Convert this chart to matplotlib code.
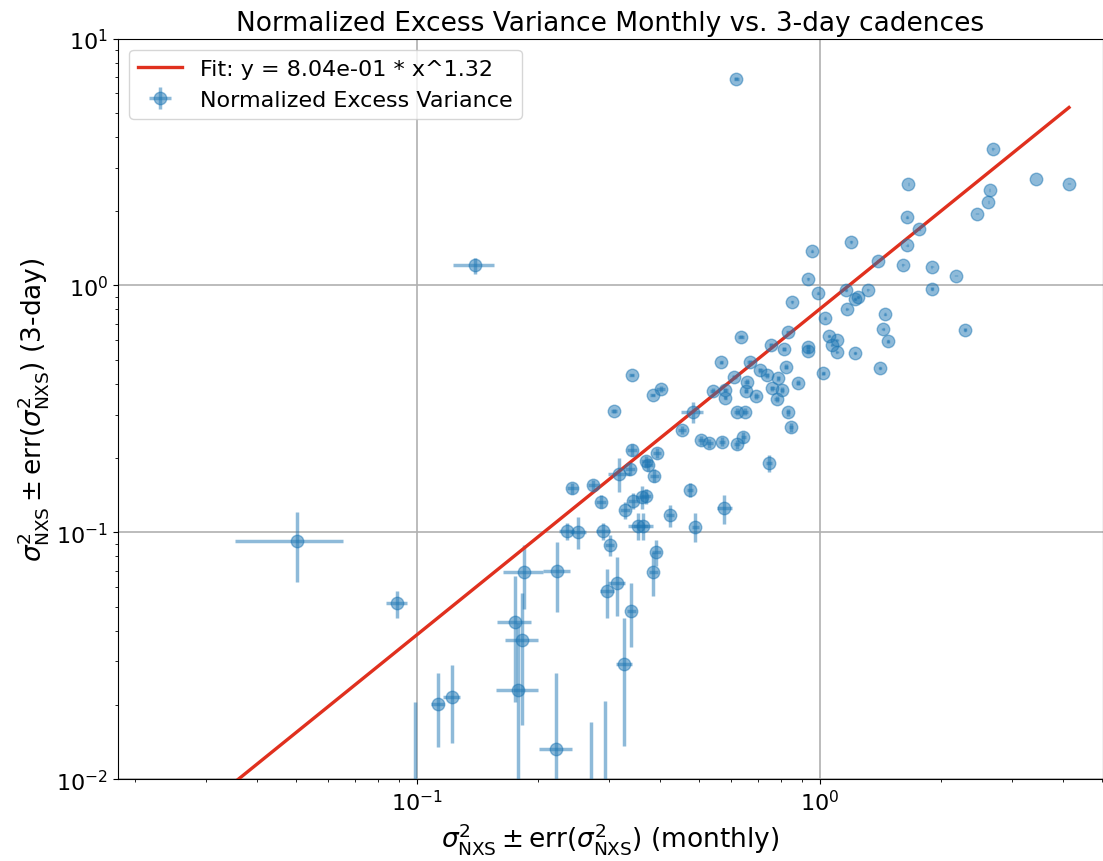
import numpy as np
import matplotlib
matplotlib.use('Agg')
import matplotlib.pyplot as plt

# fit parameters shown in the legend
fit_amp = 0.804
fit_index = 1.32

# normalized excess variance, monthly (x) vs 3-day (y) cadences
nxs_monthly = [
    0.0504, 0.0892, 0.1125, 0.122, 0.099, 0.139, 0.1846, 0.222, 0.175, 0.182,
    0.178, 0.2213, 0.27, 0.292, 0.296, 0.313, 0.340, 0.3265, 0.386, 0.392,
    0.3005, 0.290, 0.251, 0.235, 0.354, 0.364, 0.328, 0.343, 0.361, 0.370,
    0.286, 0.243, 0.274, 0.317, 0.338, 0.341, 0.394, 0.370, 0.375, 0.388,
    0.4245, 0.490, 0.476, 0.579, 0.454, 0.507, 0.531, 0.5725, 0.623, 0.645,
    0.636, 0.834, 0.756, 0.814, 0.935, 0.935, 0.5695, 0.67, 0.71, 0.738,
    0.788, 0.822, 0.884, 0.762, 0.806, 0.781, 0.834, 0.848, 0.694, 0.658,
    0.654, 0.613, 0.582, 0.582, 0.541, 0.621, 0.652, 0.483, 0.747, 0.341,
    0.384, 0.4025, 0.308,
    0.957, 1.194, 0.935, 0.99, 0.851, 1.16, 1.313, 1.245, 1.221, 1.165,
    1.029, 1.39, 1.604, 1.647, 1.764, 1.644, 1.893, 1.893, 1.45, 1.436,
    1.472, 1.409, 1.221, 1.053, 1.10, 1.069, 1.10, 1.019, 2.683, 3.43,
    4.15, 2.637, 2.617, 2.457, 1.658, 2.176, 2.29, 0.62,
]
nxs_3day = [
    0.092, 0.0515, 0.0202, 0.0215, 0.004, 1.205, 0.0689, 0.0697, 0.0435, 0.0366,
    0.023, 0.0133, 0.003, 0.004, 0.058, 0.0626, 0.0482, 0.0292, 0.0693, 0.083,
    0.0888, 0.1012, 0.1007, 0.1012, 0.1064, 0.1064, 0.123, 0.134, 0.139, 0.140,
    0.133, 0.1507, 0.1555, 0.173, 0.180, 0.2155, 0.210, 0.194, 0.187, 0.1697,
    0.117, 0.1055, 0.149, 0.125, 0.2597, 0.2364, 0.229, 0.2329, 0.227, 0.2425,
    0.620, 0.645, 0.573, 0.552, 0.565, 0.542, 0.4877, 0.4877, 0.454, 0.433,
    0.420, 0.469, 0.404, 0.383, 0.377, 0.3465, 0.306, 0.266, 0.3575, 0.408,
    0.375, 0.427, 0.377, 0.351, 0.375, 0.308, 0.308, 0.306, 0.190, 0.4336,
    0.360, 0.380, 0.310,
    1.377, 1.503, 1.067, 0.928, 0.859, 0.957, 0.963, 0.900, 0.881, 0.802,
    0.735, 1.259, 1.216, 1.456, 1.686, 1.89, 1.19, 0.972, 0.763, 0.666,
    0.595, 0.4645, 0.531, 0.623, 0.60, 0.573, 0.5385, 0.44, 3.587, 2.695,
    2.588, 2.43, 2.18, 1.956, 2.57, 1.095, 0.662, 6.89,
]
err_monthly = [
    0.015, 0.0053, 0.004, 0.006, 0.003, 0.016, 0.021, 0.017, 0.017, 0.017,
    0.021, 0.021, 0.01, 0.01, 0.012, 0.015, 0.009, 0.015, 0.01, 0.01,
    0.008, 0.012, 0.012, 0.01, 0.02, 0.02, 0.01, 0.01, 0.012, 0.01,
    0.008, 0.008, 0.008, 0.02, 0.01, 0.01, 0.01, 0.01, 0.01, 0.01,
    0.01, 0.01, 0.008, 0.025, 0.01, 0.01, 0.01, 0.01, 0.01, 0.01,
    0.01, 0.01, 0.01, 0.01, 0.01, 0.01, 0.005, 0.01, 0.01, 0.01,
    0.008, 0.01, 0.01, 0.01, 0.01, 0.01, 0.01, 0.01, 0.01, 0.01,
    0.008, 0.008, 0.008, 0.005, 0.008, 0.01, 0.01, 0.03, 0.012, 0.005,
    0.005, 0.01, 0.005,
    0.005, 0.005, 0.005, 0.005, 0.005, 0.008, 0.005, 0.008, 0.008, 0.005,
    0.005, 0.005, 0.005, 0.005, 0.005, 0.005, 0.005, 0.01, 0.005, 0.005,
    0.008, 0.005, 0.005, 0.005, 0.005, 0.005, 0.005, 0.008, 0.003, 0.003,
    0.003, 0.003, 0.003, 0.003, 0.003, 0.003, 0.01, 0.01,
]
err_3day = [
    0.029, 0.0065, 0.0067, 0.0075, 0.0165, 0.09, 0.02, 0.022, 0.023, 0.02,
    0.02, 0.0136, 0.014, 0.0167, 0.013, 0.017, 0.014, 0.0156, 0.014, 0.01,
    0.009, 0.008, 0.015, 0.008, 0.013, 0.013, 0.01, 0.01, 0.015, 0.01,
    0.008, 0.008, 0.008, 0.027, 0.01, 0.012, 0.01, 0.01, 0.01, 0.01,
    0.012, 0.014, 0.01, 0.017, 0.01, 0.01, 0.01, 0.01, 0.01, 0.012,
    0.01, 0.01, 0.01, 0.01, 0.01, 0.01, 0.005, 0.01, 0.01, 0.01,
    0.008, 0.01, 0.01, 0.01, 0.01, 0.01, 0.01, 0.01, 0.01, 0.01,
    0.008, 0.008, 0.008, 0.005, 0.008, 0.01, 0.01, 0.03, 0.015, 0.005,
    0.005, 0.01, 0.005,
    0.005, 0.005, 0.005, 0.005, 0.005, 0.008, 0.005, 0.008, 0.008, 0.005,
    0.005, 0.005, 0.005, 0.005, 0.005, 0.005, 0.005, 0.01, 0.005, 0.005,
    0.008, 0.005, 0.005, 0.005, 0.005, 0.005, 0.005, 0.008, 0.003, 0.003,
    0.003, 0.003, 0.003, 0.003, 0.003, 0.003, 0.01, 0.1,
]

x = np.array(nxs_monthly)
y = np.array(nxs_3day)

fig = plt.figure(figsize=(11.03, 8.62), dpi=100)
ax = fig.add_axes([0.107, 0.095, 0.893, 0.859])

ax.errorbar(x, y, xerr=err_monthly, yerr=err_3day, fmt='o', color='#1f77b4',
            alpha=0.5, markersize=9, elinewidth=2.5, capsize=0,
            label='Normalized Excess Variance')

# power law fit
x_fit = np.logspace(np.log10(0.02), np.log10(x.max()), 200)
ax.plot(x_fit, fit_amp * x_fit ** fit_index, color='#e0301e', lw=2.4,
        label='Fit: y = %.2e * x^%.2f' % (fit_amp, fit_index))

ax.set_xscale('log')
ax.set_yscale('log')
ax.set_xlim(0.0181, 5.04)
ax.set_ylim(0.01, 10)
ax.grid(True, which='major', color='#b0b0b0', lw=1.2)

ax.set_xlabel(r'$\sigma^2_{\rm NXS} \pm {\rm err}(\sigma^2_{\rm NXS})$ (monthly)', fontsize=19)
ax.set_ylabel(r'$\sigma^2_{\rm NXS} \pm {\rm err}(\sigma^2_{\rm NXS})$ (3-day)', fontsize=19)
ax.set_title('Normalized Excess Variance Monthly vs. 3-day cadences', fontsize=19)
ax.tick_params(labelsize=16)

ax.legend(loc='upper left', fontsize=16)

fig.savefig('out.png', dpi=100)
